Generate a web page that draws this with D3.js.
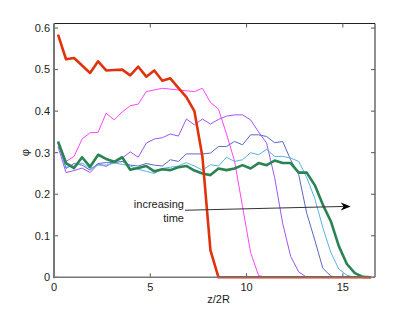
<!DOCTYPE html>
<html>
<head>
<meta charset="utf-8">
<script src="https://cdn.jsdelivr.net/npm/d3@7"></script>
<style>
  body { margin: 0; background: #fff; }
  text { font-family: "Liberation Sans", Arial, sans-serif; }
</style>
</head>
<body>
<svg id="chart" width="415" height="313"></svg>
<script>
// sample positions along z/2R (step 5/12, cell centres)
var zValues = d3.range(40).map(function(i) { return (i + 0.5) * 5 / 12; });

var redSeries = [0.584, 0.525, 0.528, 0.51, 0.492, 0.52, 0.498, 0.499, 0.5, 0.486, 0.507, 0.483, 0.498, 0.473,
  0.479, 0.456, 0.434, 0.40, 0.29, 0.065, 0, 0, 0, 0, 0, 0, 0, 0, 0, 0, 0, 0, 0, 0, 0, 0, 0, 0, 0, 0];
var magentaSeries = [0.325, 0.279, 0.291, 0.333, 0.348, 0.349, 0.395, 0.379, 0.398, 0.413, 0.417, 0.447, 0.451, 0.455,
  0.453, 0.451, 0.449, 0.447, 0.455, 0.421, 0.405, 0.345, 0.28, 0.17, 0.06, 0.004, 0, 0, 0, 0, 0, 0, 0, 0, 0, 0, 0, 0, 0, 0];
var purpleSeries = [0.315, 0.252, 0.257, 0.263, 0.252, 0.273, 0.267, 0.279, 0.287, 0.302, 0.289, 0.323, 0.333, 0.336,
  0.345, 0.34, 0.381, 0.367, 0.381, 0.369, 0.38, 0.388, 0.391, 0.391, 0.379, 0.35, 0.323, 0.24, 0.13, 0.05, 0.013, 0,
  0, 0, 0, 0, 0, 0, 0, 0];
var slateSeries = [0.325, 0.262, 0.274, 0.27, 0.258, 0.274, 0.276, 0.276, 0.279, 0.27, 0.268, 0.274, 0.27, 0.268,
  0.283, 0.279, 0.297, 0.297, 0.297, 0.299, 0.315, 0.315, 0.327, 0.319, 0.343, 0.343, 0.339, 0.324, 0.327, 0.283,
  0.247, 0.154, 0.09, 0.022, 0.003, 0, 0, 0, 0, 0];
var skySeries = [0.325, 0.265, 0.268, 0.275, 0.262, 0.27, 0.27, 0.275, 0.272, 0.268, 0.26, 0.255, 0.25, 0.262,
  0.265, 0.268, 0.276, 0.268, 0.258, 0.271, 0.268, 0.289, 0.279, 0.283, 0.3, 0.295, 0.308, 0.291, 0.291, 0.287,
  0.279, 0.24, 0.19, 0.12, 0.06, 0.02, 0.005, 0, 0, 0];
var greenSeries = [0.327, 0.275, 0.263, 0.289, 0.266, 0.295, 0.285, 0.278, 0.289, 0.259, 0.263, 0.268, 0.255, 0.26,
  0.258, 0.265, 0.268, 0.257, 0.25, 0.246, 0.262, 0.258, 0.262, 0.27, 0.262, 0.275, 0.27, 0.281, 0.275, 0.275,
  0.252, 0.252, 0.222, 0.175, 0.135, 0.075, 0.032, 0.01, 0.001, 0];

var xTicks = [0, 5, 10, 15];
var yTicks = [0, 0.1, 0.2, 0.3, 0.4, 0.5, 0.6];

var svg = d3.select("#chart"),
    plotL = 54, plotT = 23.5, plotR = 375, plotB = 277.3;

var x = d3.scaleLinear().domain([0, 16.67]).range([plotL, plotR]);
var y = d3.scaleLinear().domain([0, 0.611]).range([plotB, plotT]);

// frame: top and right thin black, left and bottom grey
svg.append("line").attr("x1", plotL).attr("x2", plotR).attr("y1", plotT).attr("y2", plotT)
  .attr("stroke", "#222").attr("stroke-width", 1);
svg.append("line").attr("x1", plotR).attr("x2", plotR).attr("y1", plotT).attr("y2", plotB)
  .attr("stroke", "#222").attr("stroke-width", 1);

// ticks inward on all four sides
svg.selectAll(".xt").data(xTicks).enter().append("line")
  .attr("x1", d => x(d)).attr("x2", d => x(d)).attr("y1", plotB).attr("y2", plotB - 4)
  .attr("stroke", "#555");
svg.selectAll(".xtt").data(xTicks).enter().append("line")
  .attr("x1", d => x(d)).attr("x2", d => x(d)).attr("y1", plotT).attr("y2", plotT + 4)
  .attr("stroke", "#555");
svg.selectAll(".yt").data(yTicks).enter().append("line")
  .attr("x1", plotL).attr("x2", plotL + 4).attr("y1", d => y(d)).attr("y2", d => y(d))
  .attr("stroke", "#555");
svg.selectAll(".ytr").data(yTicks).enter().append("line")
  .attr("x1", plotR).attr("x2", plotR - 4).attr("y1", d => y(d)).attr("y2", d => y(d))
  .attr("stroke", "#555");

svg.selectAll(".xl").data(xTicks).enter().append("text")
  .attr("x", d => x(d)).attr("y", plotB + 14)
  .attr("text-anchor", "middle").attr("font-size", "11px").attr("fill", "#222")
  .text(d => d);
svg.selectAll(".yl").data(yTicks).enter().append("text")
  .attr("x", plotL - 4).attr("y", d => y(d)).attr("dy", "0.35em")
  .attr("text-anchor", "end").attr("font-size", "11px").attr("fill", "#222")
  .text(d => d);

var line = d3.line()
  .x(function(d, i) { return x(zValues[i]); })
  .y(function(d) { return y(d); });

var series = [
  { values: magentaSeries, color: "#ff44ff", width: 1 },
  { values: purpleSeries, color: "#9f55f2", width: 1 },
  { values: slateSeries, color: "#5a68c4", width: 1 },
  { values: skySeries, color: "#55b2e6", width: 1 },
  { values: greenSeries, color: "#2a8352", width: 2.6 },
  { values: redSeries, color: "#e0330c", width: 2.6 }
];

svg.selectAll(".series").data(series).enter().append("path")
  .attr("class", "series")
  .attr("d", d => line(d.values))
  .attr("fill", "none")
  .attr("stroke", d => d.color)
  .attr("stroke-width", d => d.width)
  .attr("stroke-linejoin", "round");

svg.append("line").attr("x1", plotL).attr("x2", plotL).attr("y1", plotT).attr("y2", plotB + 1)
  .attr("stroke", "#777").attr("stroke-width", 2);
svg.append("line").attr("x1", plotL).attr("x2", plotR).attr("y1", plotB).attr("y2", plotB)
  .attr("stroke", "#777").attr("stroke-width", 1.6);

// annotation arrow
var arrowFrom = [6.8, 0.1614], arrowTo = [15.41, 0.1706];
var ax1 = x(arrowFrom[0]), ay1 = y(arrowFrom[1]), ax2 = x(arrowTo[0]), ay2 = y(arrowTo[1]);
svg.append("line").attr("x1", ax1).attr("y1", ay1).attr("x2", ax2 - 6).attr("y2", ay2)
  .attr("stroke", "#333").attr("stroke-width", 1);
svg.append("path")
  .attr("d", "M" + ax2 + "," + ay2 + " L" + (ax2 - 10) + "," + (ay2 - 4) + " L" + (ax2 - 7) + "," + ay2 +
    " L" + (ax2 - 10) + "," + (ay2 + 4) + "Z")
  .attr("fill", "#000");

svg.append("text").attr("x", x(6.75)).attr("y", y(0.167))
  .attr("text-anchor", "end").attr("font-size", "11px").attr("fill", "#222").text("increasing");
svg.append("text").attr("x", x(6.75)).attr("y", y(0.133))
  .attr("text-anchor", "end").attr("font-size", "11px").attr("fill", "#222").text("time");

svg.append("text").attr("x", x(8.55)).attr("y", 303)
  .attr("text-anchor", "middle").attr("font-size", "11px").attr("fill", "#222").text("z/2R");
svg.append("text").attr("transform", "translate(29," + y(0.3) + ") rotate(-90)")
  .attr("text-anchor", "middle").attr("font-size", "11px").attr("fill", "#222").text("φ");
</script>
</body>
</html>
